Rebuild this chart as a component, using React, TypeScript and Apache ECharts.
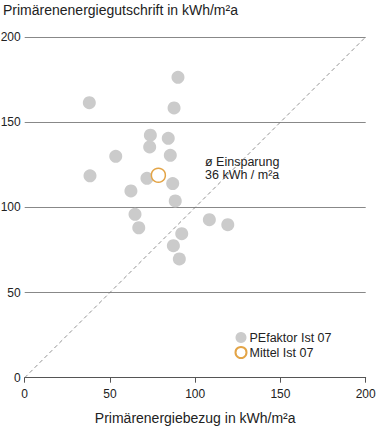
import React, { useEffect, useRef } from "react";
import * as echarts from "echarts";

const bezug = [89.9, 37.9, 87.6, 73.7, 84.2, 73.3, 85.4, 53.4, 38.3, 71.7, 86.8, 62.3, 88.3, 64.7, 66.9, 92.1, 87.2, 90.7, 108.3, 119.1];
const gutschrift = [176.3, 161.4, 158.3, 142.3, 140.5, 135.4, 130.5, 129.9, 118.5, 117.0, 113.9, 109.6, 103.7, 95.9, 88.0, 84.5, 77.5, 69.7, 92.7, 89.8];
const mittel = [[78.4, 118.8]];
const diagonal = [[0, 0], [200, 200]];
const axisTicks = [0, 50, 100, 150, 200];
const seriesNames = ["PEfaktor Ist 07", "Mittel Ist 07"];
const yTitle = "Primärenenergiegutschrift in kWh/m²a";
const xTitle = "Primärenergiebezug in kWh/m²a";
const noteLines = ["ø Einsparung", "36 kWh / m²a"];

const FONT = "'Liberation Sans', Arial, sans-serif";

export default function App() {
  const ref = useRef<HTMLDivElement>(null);
  useEffect(() => {
    if (!ref.current) return;
    const chart = echarts.init(ref.current, undefined, { renderer: "svg" });
    const points = bezug.map((x, i) => [x, gutschrift[i]]);
    chart.setOption({
      animation: false,
      textStyle: { fontFamily: FONT },
      grid: { left: 24.7, right: 11.3, top: 36.9, bottom: 50.3, containLabel: false, outerBoundsMode: "none" },
      xAxis: {
        type: "value",
        min: axisTicks[0],
        max: axisTicks[axisTicks.length - 1],
        interval: 50,
        name: xTitle,
        nameLocation: "middle",
        nameGap: 33,
        nameTextStyle: { fontSize: 14, color: "#222", fontFamily: FONT },
        axisLine: { show: true, lineStyle: { color: "#555", width: 1 } },
        axisTick: { show: true, length: 5, lineStyle: { color: "#555" } },
        axisLabel: { fontSize: 12, color: "#222", margin: 10, fontFamily: FONT },
        splitLine: { show: false },
      },
      yAxis: {
        type: "value",
        min: axisTicks[0],
        max: axisTicks[axisTicks.length - 1],
        interval: 50,
        axisLine: { show: false },
        axisTick: { show: false },
        axisLabel: { fontSize: 12, color: "#222", margin: 4, fontFamily: FONT },
        splitLine: { show: true, lineStyle: { color: "#888", width: 1 } },
      },
      legend: {
        orient: "vertical",
        left: 234.5,
        top: 331,
        padding: 0,
        itemWidth: 11,
        itemHeight: 11,
        itemGap: 2,
        icon: "circle",
        data: seriesNames,
        textStyle: { fontSize: 12.5, color: "#222", fontFamily: FONT, padding: [0, 0, 0, -2] },
      },
      graphic: [
        {
          type: "text",
          left: 3,
          top: 3,
          style: { text: yTitle, fontSize: 14, fill: "#222", fontFamily: FONT },
        },
        {
          type: "text",
          left: 205,
          top: 155.5,
          style: { text: noteLines[0], fontSize: 12.5, fill: "#222", fontFamily: FONT },
        },
        {
          type: "text",
          left: 205,
          top: 168.2,
          style: { text: noteLines[1], fontSize: 12.5, fill: "#222", fontFamily: FONT },
        },
      ],
      series: [
        {
          type: "line",
          data: diagonal,
          symbol: "none",
          silent: true,
          lineStyle: { color: "#777", width: 0.8, type: [4, 3] },
          z: 1,
        },
        {
          name: seriesNames[0],
          type: "scatter",
          data: points,
          symbolSize: 13,
          itemStyle: { color: "#cbcbcb", opacity: 1 },
          z: 2,
        },
        {
          name: seriesNames[1],
          type: "scatter",
          data: mittel,
          symbolSize: 14,
          itemStyle: { color: "#ffffff", borderColor: "#e3a446", borderWidth: 1.5, opacity: 1 },
          z: 3,
        },
      ],
    });
    return () => chart.dispose();
  }, []);
  return <div ref={ref} style={{ width: 377, height: 428, position: "absolute", left: 0, top: 0 }} />;
}
